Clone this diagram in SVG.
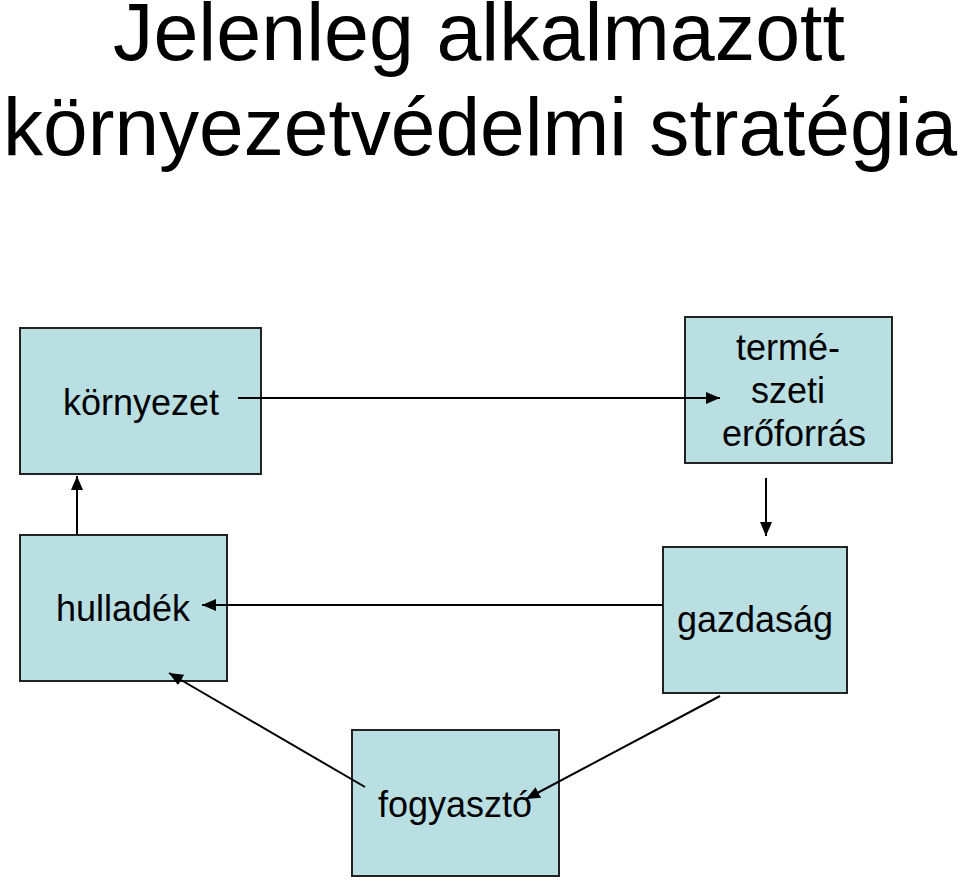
<svg xmlns="http://www.w3.org/2000/svg" width="960" height="883" viewBox="0 0 960 883">
<style>
.box{fill:#b9dfe3;stroke:#222;stroke-width:2}
.lbl{font-family:"Liberation Sans",Arial,sans-serif;font-size:36px;fill:#000;text-anchor:middle}
.title{font-family:"Liberation Sans",Arial,sans-serif;font-size:81px;fill:#000}
.conn{stroke:#000;stroke-width:2;fill:none;marker-end:url(#ah)}
</style>
<defs>
<marker id="ah" viewBox="0 0 14 12" refX="14" refY="6" markerWidth="14" markerHeight="12" markerUnits="userSpaceOnUse" orient="auto">
<path d="M0,0 L14,6 L0,12 Z" fill="#000"/>
</marker>
</defs>
<rect width="960" height="883" fill="#fff"/>
<g id="title">
<text class="title" x="113" y="60" textLength="732" lengthAdjust="spacingAndGlyphs">Jelenleg alkalmazott</text>
<text class="title" x="3" y="155" textLength="954" lengthAdjust="spacingAndGlyphs">környezetvédelmi stratégia</text>
</g>
<g id="node-kornyezet">
<rect class="box" x="20" y="328" width="241" height="146"/>
<text class="lbl" x="141" y="415">környezet</text>
</g>
<g id="node-termeszeti">
<rect class="box" x="685" y="317" width="207" height="146"/>
<text class="lbl" x="788" y="360">termé-</text>
<text class="lbl" x="788" y="403">szeti</text>
<text class="lbl" x="794" y="446">erőforrás</text>
</g>
<g id="node-gazdasag">
<rect class="box" x="663" y="547" width="184" height="146"/>
<text class="lbl" x="755" y="632">gazdaság</text>
</g>
<g id="node-hulladek">
<rect class="box" x="20" y="535" width="207" height="146"/>
<text class="lbl" x="123" y="621">hulladék</text>
</g>
<g id="node-fogyaszto">
<rect class="box" x="352" y="730" width="207" height="146"/>
<text class="lbl" x="455" y="817">fogyasztó</text>
</g>
<g id="connectors">
<line class="conn" x1="238" y1="398" x2="720" y2="398"/>
<line class="conn" x1="766" y1="478" x2="766" y2="536"/>
<line class="conn" x1="663" y1="605" x2="202" y2="605"/>
<line class="conn" x1="77" y1="535" x2="77" y2="476"/>
<line class="conn" x1="365" y1="787" x2="169" y2="673"/>
<line class="conn" x1="720" y1="696" x2="526" y2="799"/>
</g>
</svg>
